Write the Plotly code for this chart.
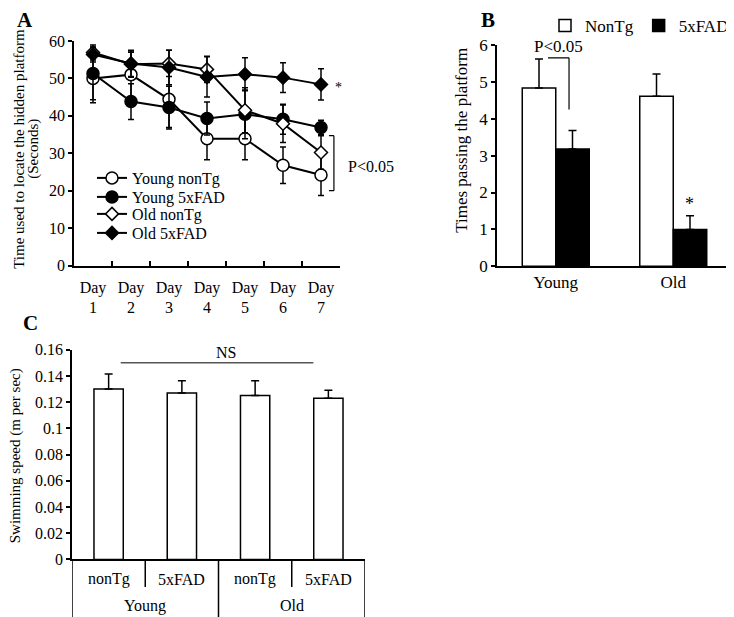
import plotly.graph_objects as go

# Panel A - time to locate hidden platform
days = ["Day<br>1", "Day<br>2", "Day<br>3", "Day<br>4", "Day<br>5", "Day<br>6", "Day<br>7"]
young_nontg = [50.0, 51.0, 44.4, 33.9, 33.9, 26.8, 24.2]
young_nontg_err = [6.5, 6.0, 7.5, 5.6, 5.6, 4.9, 5.5]
young_5xfad = [51.3, 43.8, 42.2, 39.3, 40.4, 39.1, 36.9]
young_5xfad_err = [7.0, 4.8, 5.7, 4.4, 6.5, 4.0, 1.9]
old_nontg = [56.9, 53.8, 54.0, 52.4, 41.5, 37.9, 30.2]
old_nontg_err = [2.0, 3.5, 3.5, 3.5, 6.0, 5.0, 4.5]
old_5xfad = [56.4, 54.0, 52.9, 50.4, 51.1, 50.2, 48.4]
old_5xfad_err = [2.0, 3.5, 4.6, 5.4, 4.4, 4.0, 4.2]

# Panel B - times passing the platform
ages = ["Young", "Old"]
pass_nontg = [4.83, 4.61]
pass_nontg_err = [0.79, 0.60]
pass_5xfad = [3.18, 1.00]
pass_5xfad_err = [0.50, 0.37]

# Panel C - swimming speed
c_age = ["Young", "Young", "Old", "Old"]
c_geno = ["nonTg", "5xFAD", "nonTg", "5xFAD"]
speed = [0.130, 0.127, 0.125, 0.123]
speed_err = [0.0114, 0.0094, 0.0114, 0.0061]

# the page body has an 8px margin, so the figure is drawn 8px in from the window corner
OFF = 8
W, H = 734 - OFF, 617 - OFF
FONT = "Liberation Serif"


def px_x(p):
    return (p - OFF) / W


def px_y(p):
    return 1 - (p - OFF) / H


fig = go.Figure()

# one legend per line series so the rows can sit as tight as in the original
series = [
    ("Young nonTg", young_nontg, young_nontg_err, "circle", "white", 12, "legend"),
    ("Young 5xFAD", young_5xfad, young_5xfad_err, "circle", "black", 12, "legend3"),
    ("Old nonTg", old_nontg, old_nontg_err, "diamond", "white", 10, "legend4"),
    ("Old 5xFAD", old_5xfad, old_5xfad_err, "diamond", "black", 10, "legend5"),
]
for name, vals, errs, sym, fill, size, leg in series:
    fig.add_trace(go.Scatter(
        x=days, y=vals, name=name, mode="lines+markers",
        line=dict(color="black", width=2),
        marker=dict(symbol=sym, color=fill, size=size, line=dict(color="black", width=1.5)),
        error_y=dict(type="data", array=errs, color="black", thickness=1.5, width=3),
        xaxis="x", yaxis="y", legend=leg,
    ))

fig.add_trace(go.Bar(
    x=ages, y=pass_nontg, name="NonTg",
    marker=dict(color="white", line=dict(color="black", width=1.5)),
    error_y=dict(type="data", array=pass_nontg_err, arrayminus=[0, 0], symmetric=False,
                 color="black", thickness=1.5, width=4),
    xaxis="x2", yaxis="y2", legend="legend2",
))
fig.add_trace(go.Bar(
    x=ages, y=pass_5xfad, name="5xFAD",
    marker=dict(color="black", line=dict(color="black", width=1.5)),
    error_y=dict(type="data", array=pass_5xfad_err, arrayminus=[0, 0], symmetric=False,
                 color="black", thickness=1.5, width=4),
    xaxis="x2", yaxis="y2", legend="legend2",
))

c_keys = [a + " " + g for a, g in zip(c_age, c_geno)]
fig.add_trace(go.Bar(
    x=c_keys, y=speed, showlegend=False,
    marker=dict(color="white", line=dict(color="black", width=1.5)),
    error_y=dict(type="data", array=speed_err, arrayminus=[0, 0, 0, 0], symmetric=False,
                 color="black", thickness=1.5, width=4),
    xaxis="x3", yaxis="y3", width=0.4,
))

axis_common = dict(showline=True, linecolor="black", linewidth=1.5, showgrid=False,
                   zeroline=False, color="black", automargin=False)
yticks = dict(ticks="outside", ticklen=4, tickwidth=1.5, tickcolor="black")


def leg(y):
    return dict(x=px_x(92), y=px_y(y), xanchor="left", yanchor="middle",
                bgcolor="rgba(0,0,0,0)", font=dict(size=16), itemwidth=30)


fig.update_layout(
    template="none",
    width=W, height=H,
    margin=dict(l=0, r=0, t=0, b=0),
    paper_bgcolor="white", plot_bgcolor="white",
    font=dict(family=FONT, size=16, color="black"),
    bargap=0.43, barmode="group",
    xaxis=dict(domain=[px_x(74), px_x(340)], anchor="y", range=[-0.5, 6.5],
               tickson="boundaries", ticks="inside", ticklen=5, tickwidth=1.5,
               tickcolor="black", tickangle=0, tickfont=dict(size=16),
               ticklabelstandoff=6, **axis_common),
    yaxis=dict(domain=[px_y(265), px_y(40)], anchor="x", range=[0, 60], dtick=10,
               tickfont=dict(size=16), **yticks, **axis_common),
    xaxis2=dict(domain=[px_x(497), px_x(732)], anchor="y2", range=[-0.5, 1.5], ticks="",
                tickfont=dict(size=17), **axis_common),
    yaxis2=dict(domain=[px_y(265.7), px_y(44)], anchor="x2", range=[0, 6], dtick=1,
                tickfont=dict(size=17), **yticks, **axis_common),
    xaxis3=dict(domain=[px_x(72), px_x(365)], anchor="y3", ticks="", showticklabels=False,
                range=[-0.5, 3.5], **axis_common),
    yaxis3=dict(domain=[px_y(559.3), px_y(349.3)], anchor="x3", range=[0, 0.16], dtick=0.02,
                tickfont=dict(size=16), **yticks, **axis_common),
    legend=leg(178),
    legend3=leg(197),
    legend4=leg(214),
    legend5=leg(233),
    legend2=dict(x=1, y=px_y(7), xanchor="right", yanchor="top",
                 orientation="h", bgcolor="rgba(0,0,0,0)", font=dict(size=17),
                 itemwidth=30),
)


def note(text, x, y, xref="paper", yref="paper", size=16, **kw):
    d = dict(text=text, x=x, y=y, xref=xref, yref=yref, showarrow=False,
             xanchor="center", yanchor="middle", font=dict(size=size))
    d.update(kw)
    return d


annotations = [
    note("<b>A</b>", px_x(25), px_y(19), size=21),
    note("<b>B</b>", px_x(488), px_y(19), size=21),
    note("<b>C</b>", px_x(30), px_y(323), size=21),
    note("Time used to locate the hidden platform", px_x(19), px_y(148),
         size=15, textangle=-90),
    note("(Seconds)", px_x(34), px_y(148), size=15, textangle=-90),
    note("Times passing the platform", px_x(462), px_y(140), size=17, textangle=-90),
    note("Swimming speed (m per sec)", px_x(15), px_y(456), size=15, textangle=-90),
    note("*", 6.45, 47.5, "x", "y", size=14),
    note("P<0.05", px_x(346), px_y(166), xanchor="left"),
    note("P<0.05", 0.02, 5.95, "x2", "y2", size=17),
    note("*", 1.1425, 1.68, "x2", "y2", size=18),
    note("NS", 1.608, 0.158, "x3", "y3"),
]
# panel C two-row category labels
for i, g in enumerate(c_geno):
    annotations.append(note(g, i, -0.094, "x3", "y3 domain"))
for i, a in enumerate(c_age):
    if i % 2 == 0:
        annotations.append(note(a, i + 0.5, -0.222, "x3", "y3 domain"))
fig.update_layout(annotations=annotations)

line = dict(color="black", width=1.2)
blk = dict(color="black", width=1.5)
shapes = [
    # panel A bracket
    dict(type="line", x0=6.34, x1=6.34, y0=20, y1=34.7, xref="x", yref="y", line=line),
    dict(type="line", x0=6.21, x1=6.34, y0=20, y1=20, xref="x", yref="y", line=line),
    dict(type="line", x0=6.21, x1=6.34, y0=34.7, y1=34.7, xref="x", yref="y", line=line),
    # panel B bracket
    dict(type="line", x0=-0.066, x1=0.113, y0=5.65, y1=5.65, xref="x2", yref="y2", line=line),
    dict(type="line", x0=0.113, x1=0.113, y0=5.65, y1=4.25, xref="x2", yref="y2", line=line),
    # panel C NS line
    dict(type="line", x0=0.165, x1=2.795, y0=0.15, y1=0.15, xref="x3", yref="y3",
         line=dict(color="#555555", width=1.5)),
]
# panel C dividers: long between age groups, short between genotypes
for xd in [-0.5, 1.5, 3.5]:
    shapes.append(dict(type="line", x0=xd, x1=xd, y0=0, y1=-0.3, xref="x3",
                       yref="y3 domain", line=blk))
for xd in [0.5, 2.5]:
    shapes.append(dict(type="line", x0=xd, x1=xd, y0=0, y1=-0.132, xref="x3",
                       yref="y3 domain", line=blk))
fig.update_layout(shapes=shapes)

fig.write_html("out.html")
